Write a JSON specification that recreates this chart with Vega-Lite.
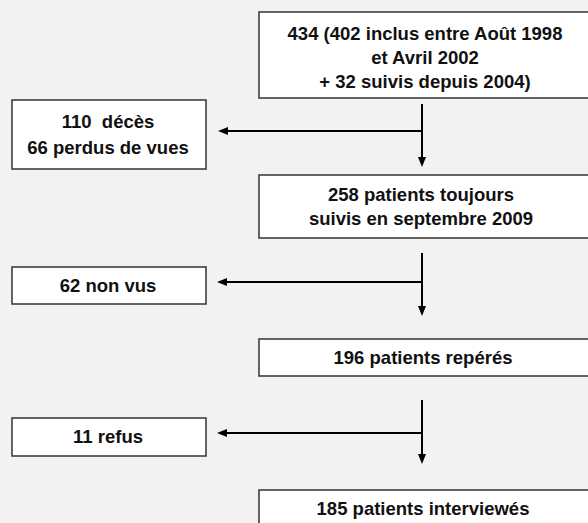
{
  "$schema": "https://vega.github.io/schema/vega-lite/v6.json",
  "width": 588,
  "height": 523,
  "autosize": {"type": "fit", "contains": "padding"},
  "padding": 0,
  "background": "#f2f2f2",
  "config": {"view": {"stroke": null}},
  "datasets": {
    "boxes": [
      {"id": "b1", "x1": 259, "x2": 600, "y1": 12, "y2": 98},
      {"id": "b2", "x1": 12, "x2": 206, "y1": 100, "y2": 169},
      {"id": "b3", "x1": 259, "x2": 600, "y1": 175, "y2": 238},
      {"id": "b4", "x1": 12, "x2": 206, "y1": 267, "y2": 304},
      {"id": "b5", "x1": 259, "x2": 600, "y1": 339, "y2": 376},
      {"id": "b6", "x1": 12, "x2": 206, "y1": 418, "y2": 456},
      {"id": "b7", "x1": 259, "x2": 600, "y1": 490, "y2": 540}
    ],
    "lines": [
      {"x1": 422, "x2": 422, "y1": 104, "y2": 158},
      {"x1": 224, "x2": 422, "y1": 131, "y2": 131},
      {"x1": 422, "x2": 422, "y1": 253, "y2": 308},
      {"x1": 224, "x2": 422, "y1": 282, "y2": 282},
      {"x1": 422, "x2": 422, "y1": 400, "y2": 456},
      {"x1": 224, "x2": 422, "y1": 433, "y2": 433}
    ],
    "arrows": [
      {"dir": "down", "x": 422, "y": 162},
      {"dir": "left", "x": 223, "y": 131},
      {"dir": "down", "x": 422, "y": 311},
      {"dir": "left", "x": 222, "y": 282},
      {"dir": "down", "x": 422, "y": 459},
      {"dir": "left", "x": 222, "y": 433}
    ],
    "labels": [
      {"x": 425, "y": 34, "text": "434 (402 inclus entre Août 1998"},
      {"x": 425, "y": 58, "text": "et Avril 2002"},
      {"x": 425, "y": 82, "text": "+ 32 suivis depuis 2004)"},
      {"x": 108, "y": 122, "text": "110\u00a0 décès"},
      {"x": 108, "y": 148, "text": "66 perdus de vues"},
      {"x": 421, "y": 195, "text": "258 patients toujours"},
      {"x": 421, "y": 219, "text": "suivis en septembre 2009"},
      {"x": 108, "y": 286, "text": "62 non vus"},
      {"x": 423, "y": 358, "text": "196 patients repérés"},
      {"x": 108, "y": 437, "text": "11 refus"},
      {"x": 423, "y": 509, "text": "185 patients interviewés"}
    ]
  },
  "layer": [
    {
      "data": {"name": "boxes"},
      "mark": {"type": "rect", "fill": "white", "stroke": "#333333", "strokeWidth": 1.5, "clip": true},
      "encoding": {
        "x": {"field": "x1", "type": "quantitative", "scale": {"domain": [0, 588], "nice": false, "zero": false}, "axis": null},
        "x2": {"field": "x2"},
        "y": {"field": "y1", "type": "quantitative", "scale": {"domain": [0, 523], "nice": false, "zero": false, "reverse": true}, "axis": null},
        "y2": {"field": "y2"}
      }
    },
    {
      "data": {"name": "lines"},
      "mark": {"type": "rule", "color": "black", "strokeWidth": 2},
      "encoding": {
        "x": {"field": "x1", "type": "quantitative", "scale": {"domain": [0, 588], "nice": false, "zero": false}, "axis": null},
        "x2": {"field": "x2"},
        "y": {"field": "y1", "type": "quantitative", "scale": {"domain": [0, 523], "nice": false, "zero": false, "reverse": true}, "axis": null},
        "y2": {"field": "y2"}
      }
    },
    {
      "data": {"name": "arrows"},
      "transform": [{"filter": "datum.dir === 'down'"}],
      "mark": {"type": "point", "shape": "M-0.8,-1L0.8,-1L0,1Z", "filled": true, "color": "black", "opacity": 1, "size": 100, "strokeWidth": 0},
      "encoding": {
        "x": {"field": "x", "type": "quantitative", "scale": {"domain": [0, 588], "nice": false, "zero": false}, "axis": null},
        "y": {"field": "y", "type": "quantitative", "scale": {"domain": [0, 523], "nice": false, "zero": false, "reverse": true}, "axis": null}
      }
    },
    {
      "data": {"name": "arrows"},
      "transform": [{"filter": "datum.dir === 'left'"}],
      "mark": {"type": "point", "shape": "M1,-0.8L1,0.8L-1,0Z", "filled": true, "color": "black", "opacity": 1, "size": 100, "strokeWidth": 0},
      "encoding": {
        "x": {"field": "x", "type": "quantitative", "scale": {"domain": [0, 588], "nice": false, "zero": false}, "axis": null},
        "y": {"field": "y", "type": "quantitative", "scale": {"domain": [0, 523], "nice": false, "zero": false, "reverse": true}, "axis": null}
      }
    },
    {
      "data": {"name": "labels"},
      "mark": {"type": "text", "font": "Liberation Sans", "fontWeight": "bold", "fontSize": 18.5, "align": "center", "baseline": "middle", "color": "#111111"},
      "encoding": {
        "x": {"field": "x", "type": "quantitative", "scale": {"domain": [0, 588], "nice": false, "zero": false}, "axis": null},
        "y": {"field": "y", "type": "quantitative", "scale": {"domain": [0, 523], "nice": false, "zero": false, "reverse": true}, "axis": null},
        "text": {"field": "text"}
      }
    }
  ]
}
